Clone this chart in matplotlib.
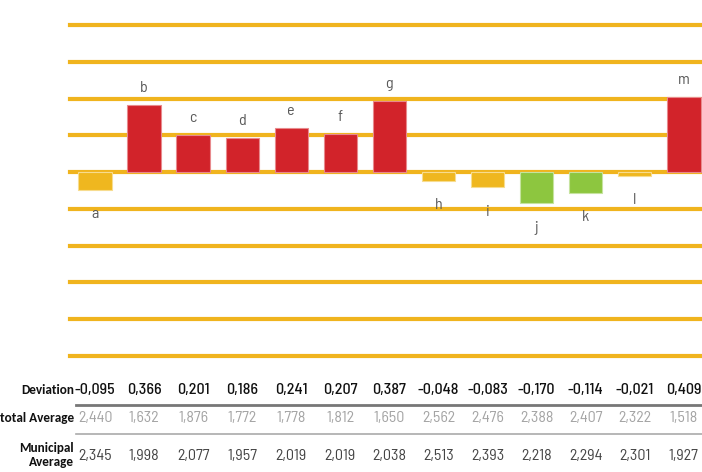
import matplotlib
matplotlib.use("Agg")
import matplotlib.pyplot as plt
from matplotlib.transforms import blended_transform_factory
from matplotlib import font_manager

labels = ["a", "b", "c", "d", "e", "f", "g", "h", "i", "j", "k", "l", "m"]
deviation = [-0.095, 0.366, 0.201, 0.186, 0.241, 0.207, 0.387, -0.048, -0.083, -0.170, -0.114, -0.021, 0.409]
total_avg = [2.440, 1.632, 1.876, 1.772, 1.778, 1.812, 1.650, 2.562, 2.476, 2.388, 2.407, 2.322, 1.518]
municipal_avg = [2.345, 1.998, 2.077, 1.957, 2.019, 2.019, 2.038, 2.513, 2.393, 2.218, 2.294, 2.301, 1.927]
row_names = ["Deviation", "total Average", "Municipal\nAverage"]

names = {f.name for f in font_manager.fontManager.ttflist}
def pick(cands):
    for c in cands:
        if c in names:
            return c
    return "DejaVu Sans"

val_font = pick(["Bahnschrift", "Barlow Semi Condensed", "Barlow Condensed", "Roboto Condensed",
                 "Archivo Narrow", "PT Sans Narrow", "Liberation Sans Narrow",
                 "Open Sans Condensed", "Roboto"])
lab_font = pick(["Carlito", "Calibri", "Barlow Condensed", "Roboto Condensed",
                 "Fira Sans Condensed", "Encode Sans Condensed", "Asap Condensed",
                 "IBM Plex Sans Condensed", "Sofia Sans Condensed", "Archivo Narrow",
                 "PT Sans Narrow", "Ubuntu Condensed", "Cabin Condensed",
                 "Saira Semi Condensed", "Encode Sans Semi Condensed",
                 "Open Sans Condensed", val_font])
plt.rcParams['font.family'] = [val_font, 'DejaVu Sans']

RED = "#D2232A"
YEL = "#EFB71F"
GRN = "#8DC63F"

def color_for(v):
    if v > 0:
        return RED
    if v < -0.1:
        return GRN
    return YEL

def edge_for(v):
    return {RED: "#E88A8D", YEL: "#F7DC8F", GRN: "#C6E39F"}[color_for(v)]

def fmt(v):
    return f"{v:.3f}".replace(".", ",")

W, H = 702, 472
fig = plt.figure(figsize=(W / 100, H / 100), dpi=100)
ax = fig.add_axes([70 / W, 1 - 356 / H, 632 / W, (356 - 25) / H])
ax.set_xlim(-0.51, 12.37)
ax.set_ylim(-1.0, 0.8)
for s in ax.spines.values():
    s.set_visible(False)
ax.set_xticks([])
ax.set_yticks([])

for g in [0.8, 0.6, 0.4, 0.2, 0.0, -0.2, -0.4, -0.6, -0.8, -1.0]:
    ax.axhline(g, color="#F0B41E", lw=3, zorder=1, clip_on=False)

x = list(range(len(labels)))
ax.bar(x, deviation, width=0.68, color=[color_for(v) for v in deviation],
       edgecolor=[edge_for(v) for v in deviation], linewidth=0.8, zorder=2)

for xi, v, lab in zip(x, deviation, labels):
    if v >= 0:
        ax.annotate(lab, (xi, v), xytext=(0, 7), textcoords="offset points",
                    ha="center", va="bottom", fontsize=11.5,
                    color="#5A5A5A", zorder=3)
    else:
        ax.annotate(lab, (xi, v), xytext=(0, -12.5), textcoords="offset points",
                    ha="center", va="top", fontsize=11.5,
                    color="#5A5A5A", zorder=3)

tr = blended_transform_factory(ax.transData, fig.transFigure)
def fy(py):
    return 1 - py / H

row_y = [390, 418, 456]
row_styles = [dict(color="#111111", fontweight="medium"),
              dict(color="#A4A4A4"),
              dict(color="#444444")]
for vals, yy, st in zip([deviation, total_avg, municipal_avg], row_y, row_styles):
    for xi, v in zip(x, vals):
        fig.text(xi, fy(yy), fmt(v), transform=tr, ha="center", va="center",
                 fontsize=11.5, **st)

lab_kw = dict(ha="right", va="center", fontsize=9.5, fontweight="bold",
              color="#111111", family=[lab_font, "DejaVu Sans"])
fig.text(74 / W, fy(390), row_names[0], **lab_kw)
fig.text(74 / W, fy(418), row_names[1], **lab_kw)
fig.text(74 / W, fy(455), row_names[2], linespacing=1.3, multialignment="right", **lab_kw)

fig.add_artist(plt.Line2D([76 / W, 1], [fy(405), fy(405)], color="#777777", lw=2))
fig.add_artist(plt.Line2D([76 / W, 1], [fy(434), fy(434)], color="#AAAAAA", lw=1.2))

fig.savefig("out.png", dpi=100)
